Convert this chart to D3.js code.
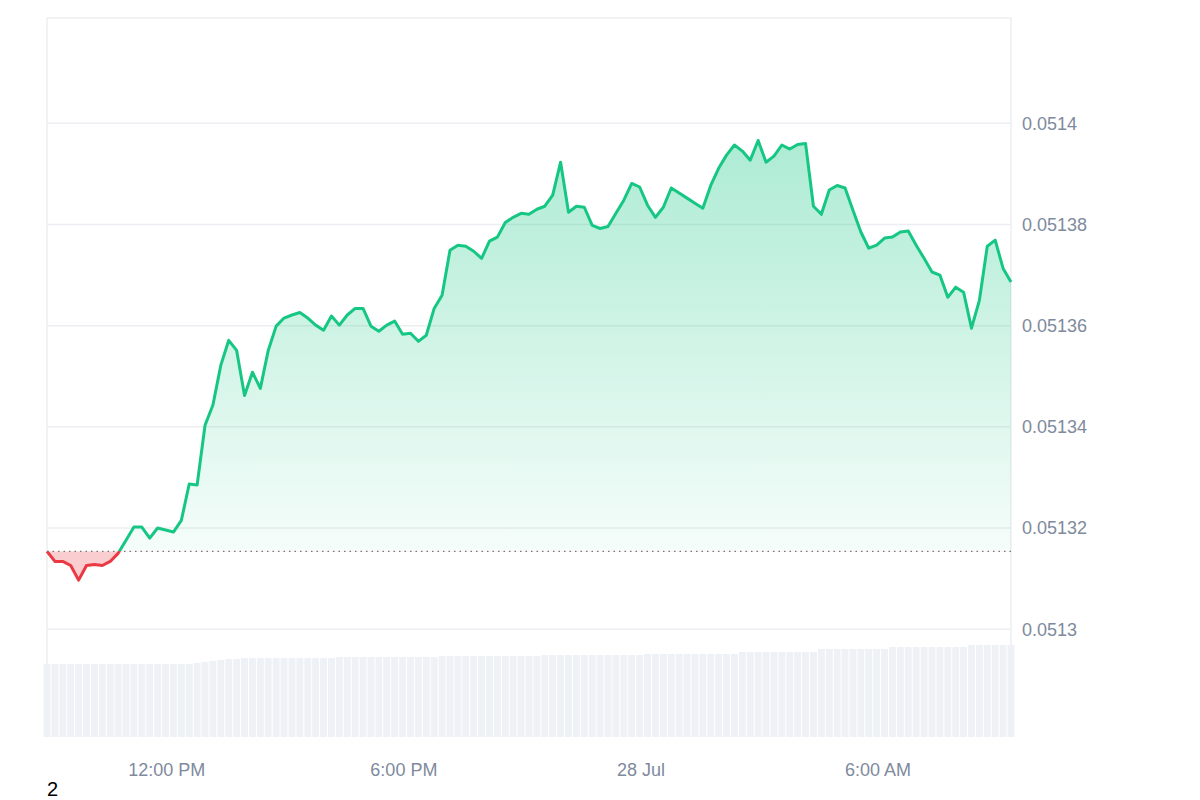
<!DOCTYPE html>
<html>
<head>
<meta charset="utf-8">
<script src="https://cdn.jsdelivr.net/npm/d3@7"></script>
<style>
  body { margin: 0; background: #fff; }
  text { font-family: "Liberation Sans", Arial, sans-serif; }
</style>
</head>
<body>
<svg id="chart" width="1200" height="800"></svg>
<script>
// price every 12 minutes, starting 27 Jul 08:58
const startTime = new Date(2024, 6, 27, 8, 58);
const stepMinutes = 12;
const prices = [
  0.0513154, 0.0513134, 0.0513134, 0.0513126, 0.0513097, 0.0513126, 0.0513128, 0.0513126, 0.0513134, 0.0513150,
  0.0513176, 0.0513202, 0.0513202, 0.0513180, 0.0513200, 0.0513196, 0.0513192, 0.0513215, 0.0513287, 0.0513285,
  0.0513403, 0.0513443, 0.0513522, 0.0513571, 0.0513551, 0.0513462, 0.0513508, 0.0513476, 0.0513551, 0.0513599,
  0.0513615, 0.0513621, 0.0513626, 0.0513615, 0.0513601, 0.0513591, 0.0513619, 0.0513601, 0.0513621, 0.0513634,
  0.0513634, 0.0513599, 0.0513589, 0.0513601, 0.0513609, 0.0513583, 0.0513585, 0.0513569, 0.0513581, 0.0513634,
  0.0513660, 0.0513749, 0.0513759, 0.0513757, 0.0513747, 0.0513733, 0.0513767, 0.0513775, 0.0513804, 0.0513814,
  0.0513822, 0.0513820, 0.0513830, 0.0513836, 0.0513858, 0.0513923, 0.0513824, 0.0513836, 0.0513834, 0.0513798,
  0.0513792, 0.0513796, 0.0513822, 0.0513848, 0.0513881, 0.0513874, 0.0513838, 0.0513814, 0.0513834, 0.0513872,
  0.0513862, 0.0513852, 0.0513842, 0.0513832, 0.0513877, 0.0513911, 0.0513937, 0.0513957, 0.0513945, 0.0513927,
  0.0513966, 0.0513923, 0.0513935, 0.0513957, 0.0513949, 0.0513958, 0.0513960, 0.0513836, 0.0513820, 0.0513868,
  0.0513877, 0.0513872, 0.0513828, 0.0513785, 0.0513753, 0.0513759, 0.0513773, 0.0513775, 0.0513785, 0.0513787,
  0.0513759, 0.0513733, 0.0513706, 0.0513700, 0.0513656, 0.0513676, 0.0513666, 0.0513595, 0.0513650, 0.0513757,
  0.0513769, 0.0513713, 0.0513686
];
const volumes = [
  73, 73, 73, 73, 73, 73, 73, 73, 73, 73, 73, 73, 73, 73, 73, 73, 73, 73, 73,
  74, 75, 76, 77, 78, 78,
  79, 79, 79, 79, 79, 79, 79, 79, 79, 79, 79, 79,
  80, 80, 80, 80, 80, 80, 80, 80, 80, 80, 80, 80, 80,
  81, 81, 81, 81, 81, 81, 81, 81, 81, 81, 81, 81, 81,
  82, 82, 82, 82, 82, 82, 82, 82, 82, 82, 82, 82, 82,
  83, 83, 83, 83, 83, 83, 83, 83, 83, 83, 83, 83,
  85, 85, 85, 85, 85, 85, 85, 85, 85, 85,
  88, 88, 88, 88, 88, 88, 88, 88, 88,
  90, 90, 90, 90, 90, 90, 90, 90, 90, 90,
  92, 92, 92, 92, 92, 92
];
const yTicks = [0.0513, 0.05132, 0.05134, 0.05136, 0.05138, 0.0514];
const xTicks = [new Date(2024, 6, 27, 12), new Date(2024, 6, 27, 18), new Date(2024, 6, 28, 0), new Date(2024, 6, 28, 6)];
const xTickLabels = ['12:00 PM', '6:00 PM', '28 Jul', '6:00 AM'];

const data = prices.map((p, i) => ({
  t: new Date(startTime.getTime() + i * stepMinutes * 60000),
  p: p,
  v: volumes[i]
}));
const basePrice = prices[0];

const plot = {left: 47, right: 1011, top: 18, bottom: 737};
const svg = d3.select('#chart');

const x = d3.scaleTime()
  .domain([data[0].t, data[data.length - 1].t])
  .range([plot.left, plot.right]);
const y = d3.scaleLinear()
  .domain([0.0512787, 0.0514208])
  .range([plot.bottom, plot.top]);
const yVol = d3.scaleLinear().domain([0, 100]).range([plot.bottom, plot.bottom - 100]);

// gradients + clips
const defs = svg.append('defs');
const gGreen = defs.append('linearGradient').attr('id', 'gGreen')
  .attr('x1', 0).attr('y1', 0).attr('x2', 0).attr('y2', 1);
gGreen.append('stop').attr('offset', '0%').attr('stop-color', '#16c784').attr('stop-opacity', 0.35);
gGreen.append('stop').attr('offset', '100%').attr('stop-color', '#16c784').attr('stop-opacity', 0.02);

defs.append('clipPath').attr('id', 'above')
  .append('rect').attr('x', plot.left - 5).attr('y', plot.top)
  .attr('width', plot.right - plot.left + 10).attr('height', y(basePrice) - plot.top);
defs.append('clipPath').attr('id', 'below')
  .append('rect').attr('x', plot.left - 5).attr('y', y(basePrice))
  .attr('width', plot.right - plot.left + 10).attr('height', plot.bottom - y(basePrice));

// grid
svg.append('g').selectAll('line').data(yTicks).join('line')
  .attr('x1', plot.left).attr('x2', plot.right)
  .attr('y1', d => y(d)).attr('y2', d => y(d))
  .attr('stroke', '#eceef1').attr('stroke-width', 1.5);

// frame
svg.append('path')
  .attr('d', `M${plot.left},${plot.bottom}V${plot.top}H${plot.right}V${plot.bottom}`)
  .attr('fill', 'none').attr('stroke', '#eceef1').attr('stroke-width', 1.5);

// volume bars
const bw = (plot.right - plot.left) / (data.length - 1);
svg.append('g').selectAll('rect').data(data).join('rect')
  .attr('x', d => x(d.t) - bw / 2 + 0.5)
  .attr('width', bw - 1)
  .attr('y', d => yVol(d.v))
  .attr('height', d => plot.bottom - yVol(d.v))
  .attr('fill', '#eef1f5');

// areas
const area = d3.area().x(d => x(d.t)).y0(y(basePrice)).y1(d => y(d.p));
svg.append('path').datum(data).attr('d', area)
  .attr('fill', 'url(#gGreen)').attr('clip-path', 'url(#above)');
svg.append('path').datum(data).attr('d', area)
  .attr('fill', 'rgba(234,57,67,0.25)').attr('clip-path', 'url(#below)');

// baseline
svg.append('line')
  .attr('x1', plot.left).attr('x2', plot.right)
  .attr('y1', y(basePrice)).attr('y2', y(basePrice))
  .attr('stroke', '#777').attr('stroke-width', 1.2).attr('stroke-dasharray', '1.5,4');

// price line
const line = d3.line().x(d => x(d.t)).y(d => y(d.p));
svg.append('path').datum(data).attr('d', line)
  .attr('fill', 'none').attr('stroke', '#16c784').attr('stroke-width', 3)
  .attr('stroke-linejoin', 'round').attr('clip-path', 'url(#above)');
svg.append('path').datum(data).attr('d', line)
  .attr('fill', 'none').attr('stroke', '#ea3943').attr('stroke-width', 3)
  .attr('stroke-linejoin', 'round').attr('clip-path', 'url(#below)');

// y labels
svg.append('g').selectAll('text').data(yTicks).join('text')
  .attr('x', 1022).attr('y', d => y(d)).attr('dy', '0.35em')
  .attr('font-size', 18).attr('fill', '#808a9d')
  .text(d => String(+d.toFixed(5)));

// x labels
svg.append('g').selectAll('text').data(xTicks).join('text')
  .attr('x', d => x(d)).attr('y', 776)
  .attr('text-anchor', 'middle').attr('font-size', 18).attr('fill', '#808a9d')
  .text((d, i) => xTickLabels[i]);

svg.append('text').attr('x', 47).attr('y', 796)
  .attr('font-size', 20).attr('fill', '#000').text('2');
</script>
</body>
</html>
